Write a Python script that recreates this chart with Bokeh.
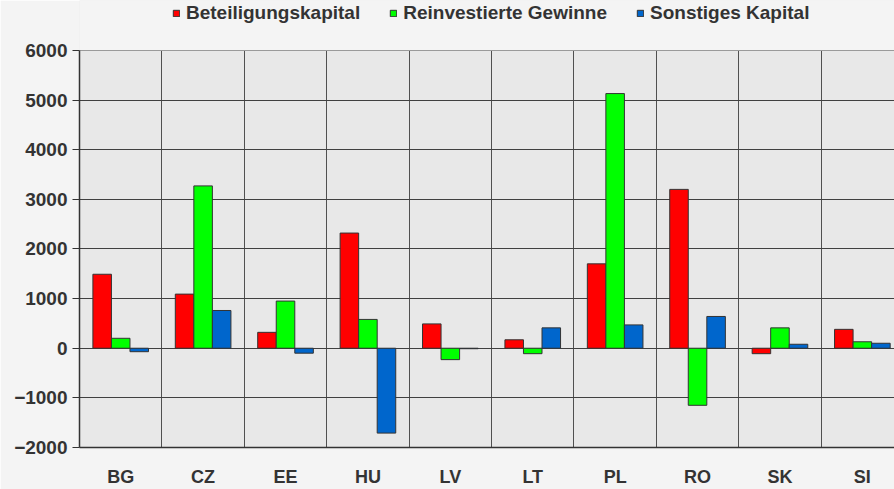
from bokeh.plotting import figure
from bokeh.models import Range1d, FixedTicker, Legend, LegendItem, LinearAxis, BoxAnnotation
from bokeh.embed import file_html
from bokeh.resources import INLINE
import numpy as np

categories = ["BG", "CZ", "EE", "HU", "LV", "LT", "PL", "RO", "SK", "SI"]
beteiligung = [1490, 1090, 320, 2320, 490, 170, 1700, 3200, -110, 380]
reinvestiert = [200, 3270, 950, 580, -230, -110, 5130, -1150, 410, 130]
sonstiges = [-70, 760, -100, -1710, -10, 410, 470, 640, 80, 100]
series_names = ["Beteiligungskapital", "Reinvestierte Gewinne", "Sonstiges Kapital"]
colors = ["#ff0000", "#00ff00", "#0066cc"]
y_ticks = [-2000, -1000, 0, 1000, 2000, 3000, 4000, 5000, 6000]
y_min, y_max = -2000, 6000

FONT = "Liberation Sans"
TXT = "#333333"

# frame spans from the very top so that the legend (clipped to the frame) fits above 6000
y_top = y_max + (y_max - y_min) * 50 / 398

p = figure(width=894, height=489, output_backend="svg", toolbar_location=None,
           x_range=Range1d(-0.5, 9.39), y_range=Range1d(y_min, y_top),
           min_border_left=79, min_border_right=0, min_border_top=0, min_border_bottom=41,
           x_axis_location=None, y_axis_location=None)
p.background_fill_color = "#e8e8e8"
p.border_fill_color = "#f4f4f4"
p.outline_line_color = None

# band above the value area painted like the page background
p.add_layout(BoxAnnotation(bottom=y_max, fill_color="#f4f4f4", fill_alpha=1,
                           line_color=None, level="underlay"))

x = np.arange(len(categories))
bw = 0.225
renderers = []
for i, (vals, col) in enumerate(zip([beteiligung, reinvestiert, sonstiges], colors)):
    r = p.vbar(x=x + (i - 1) * bw, top=vals, bottom=0, width=bw, fill_color=col,
               line_color="#333333", line_width=1)
    renderers.append(r)

# y axis
yax = LinearAxis(ticker=FixedTicker(ticks=y_ticks), bounds=(y_min, y_max))
yax.axis_line_color = "#333333"
yax.axis_line_width = 1.5
yax.major_tick_out = 7
yax.major_tick_in = 0
yax.major_tick_line_color = "#333333"
yax.minor_tick_line_color = None
yax.major_label_text_font = FONT
yax.major_label_text_font_style = "bold"
yax.major_label_text_font_size = "19px"
yax.major_label_text_color = TXT
yax.major_label_standoff = 5
p.add_layout(yax, "left")

# x axis
xax = LinearAxis(ticker=FixedTicker(ticks=list(range(len(categories)))))
xax.major_label_overrides = {i: c for i, c in enumerate(categories)}
xax.axis_line_color = "#333333"
xax.axis_line_width = 1.5
xax.major_tick_line_color = None
xax.minor_tick_line_color = None
xax.major_label_text_font = FONT
xax.major_label_text_font_style = "bold"
xax.major_label_text_font_size = "18px"
xax.major_label_text_color = TXT
xax.major_label_standoff = 13
p.add_layout(xax, "below")

# grids
p.xgrid.ticker = FixedTicker(ticks=[k - 0.5 for k in range(len(categories) + 1)])
p.xgrid.cross_bounds = (y_min, y_max)
p.xgrid.grid_line_color = "#505050"
p.xgrid.grid_line_width = 1
p.ygrid.ticker = FixedTicker(ticks=y_ticks)
p.ygrid.grid_line_color = "#404040"
p.ygrid.grid_line_width = 1

legend = Legend(items=[LegendItem(label=n, renderers=[r]) for n, r in zip(series_names, renderers)],
                orientation="horizontal", location=(93, 423))
legend.glyph_width = 8
legend.glyph_height = 8
legend.label_standoff = 6
legend.spacing = 29
legend.padding = 0
legend.margin = 0
legend.label_height = 20
legend.label_text_font = FONT
legend.label_text_font_style = "bold"
legend.label_text_font_size = "19px"
legend.label_text_color = TXT
legend.background_fill_alpha = 0
legend.border_line_color = None
p.add_layout(legend, "center")

open("out.html", "w").write(file_html(p, INLINE))
